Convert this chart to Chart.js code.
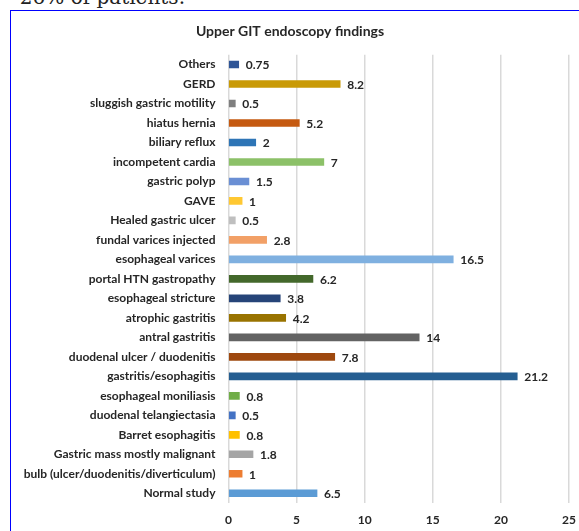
<!DOCTYPE html>
<html>
<head>
<meta charset="utf-8">
<script src="https://cdn.jsdelivr.net/npm/chart.js@4/dist/chart.umd.min.js"></script>
<style>
  html, body { margin: 0; padding: 0; background: #fff; overflow: hidden; }
  body { width: 579px; height: 531px; position: relative; }
  #caption {
    position: absolute; right: 394px; top: -14px;
    font-family: "DejaVu Serif", "Liberation Serif", serif; font-size: 20px;
    color: #222; white-space: nowrap; line-height: 22px;
  }
  #box {
    position: absolute; left: 10px; top: 10px; width: 600px; height: 540px;
    border-left: 1px solid #0000ff; border-top: 1px solid #0000ff;
  }
  #wrap { position: absolute; left: 11px; top: 11px; width: 579px; height: 520px; }
</style>
</head>
<body>
<div id="caption">26% of patients.</div>
<div id="box"></div>
<div id="wrap"><canvas id="grafico"></canvas></div>
<script>
// categorías (de arriba hacia abajo)
const categorias = [
  "Others", "GERD", "sluggish gastric motility", "hiatus hernia", "biliary reflux",
  "incompetent cardia", "gastric polyp", "GAVE", "Healed gastric ulcer",
  "fundal varices injected", "esophageal varices", "portal HTN gastropathy",
  "esophageal stricture", "atrophic gastritis", "antral gastritis",
  "duodenal ulcer / duodenitis", "gastritis/esophagitis", "esophageal moniliasis",
  "duodenal telangiectasia", "Barret esophagitis", "Gastric mass mostly malignant",
  "bulb (ulcer/duodenitis/diverticulum)", "Normal study"
];
const valores = [
  0.75, 8.2, 0.5, 5.2, 2, 7, 1.5, 1, 0.5, 2.8, 16.5, 6.2,
  3.8, 4.2, 14, 7.8, 21.2, 0.8, 0.5, 0.8, 1.8, 1, 6.5
];
const etiquetas = [
  "0.75", "8.2", "0.5", "5.2", "2", "7", "1.5", "1", "0.5", "2.8", "16.5", "6.2",
  "3.8", "4.2", "14", "7.8", "21.2", "0.8", "0.5", "0.8", "1.8", "1", "6.5"
];
const colores = [
  "#2f5597", "#c99a06", "#7f7f7f", "#c55a11", "#2e75b6", "#8cc168", "#6a8fd4",
  "#ffc832", "#bfbfbf", "#f2a067", "#7fb0e0", "#43682b", "#264478", "#997300",
  "#636363", "#9e480e", "#255e91", "#70ad47", "#4472c4", "#ffc000", "#a5a5a5",
  "#ed7d31", "#5b9bd5"
];
const ticksX = [0, 5, 10, 15, 20, 25];

const fuente = "Lato, 'Open Sans', sans-serif";

// etiquetas de valor al final de cada barra
const valoresPlugin = {
  id: "valores",
  afterDatasetsDraw(chart) {
    const ctx = chart.ctx;
    const meta = chart.getDatasetMeta(0);
    ctx.save();
    ctx.font = "bold 12px " + fuente;
    ctx.fillStyle = "#262626";
    ctx.textBaseline = "middle";
    ctx.textAlign = "left";
    meta.data.forEach((bar, i) => {
      ctx.fillText(etiquetas[i], bar.x + 7, bar.y + 1);
    });
    ctx.restore();
  }
};

const ctx = document.getElementById("grafico").getContext("2d");
new Chart(ctx, {
  type: "bar",
  data: {
    labels: categorias,
    datasets: [{
      data: valores,
      backgroundColor: colores,
      barThickness: 7
    }]
  },
  options: {
    indexAxis: "y",
    responsive: true,
    maintainAspectRatio: false,
    animation: false,
    layout: { padding: { left: 0, right: 21, top: 0, bottom: 0 } },
    plugins: {
      legend: { display: false },
      tooltip: { enabled: false },
      title: {
        display: true,
        text: "Upper GIT endoscopy findings",
        color: "#262626",
        font: { family: fuente, size: 14, weight: "bold" },
        padding: { top: 12, bottom: 15 }
      }
    },
    scales: {
      x: {
        min: 0,
        max: 25,
        afterBuildTicks: s => { s.ticks = ticksX.map(v => ({ value: v })); },
        afterFit: s => { s.height = 28; },
        grid: { color: "#d9d9d9", lineWidth: 1.5, drawTicks: false },
        border: { display: false },
        ticks: { color: "#262626", padding: 10, font: { family: fuente, size: 12, weight: "bold" } }
      },
      y: {
        afterFit: s => { s.width = 217.5; },
        grid: { display: false, drawTicks: false },
        border: { display: false },
        ticks: {
          autoSkip: false,
          color: "#262626",
          padding: 13,
          font: { family: fuente, size: 12, weight: "bold" }
        }
      }
    }
  },
  plugins: [valoresPlugin]
});
</script>
</body>
</html>
